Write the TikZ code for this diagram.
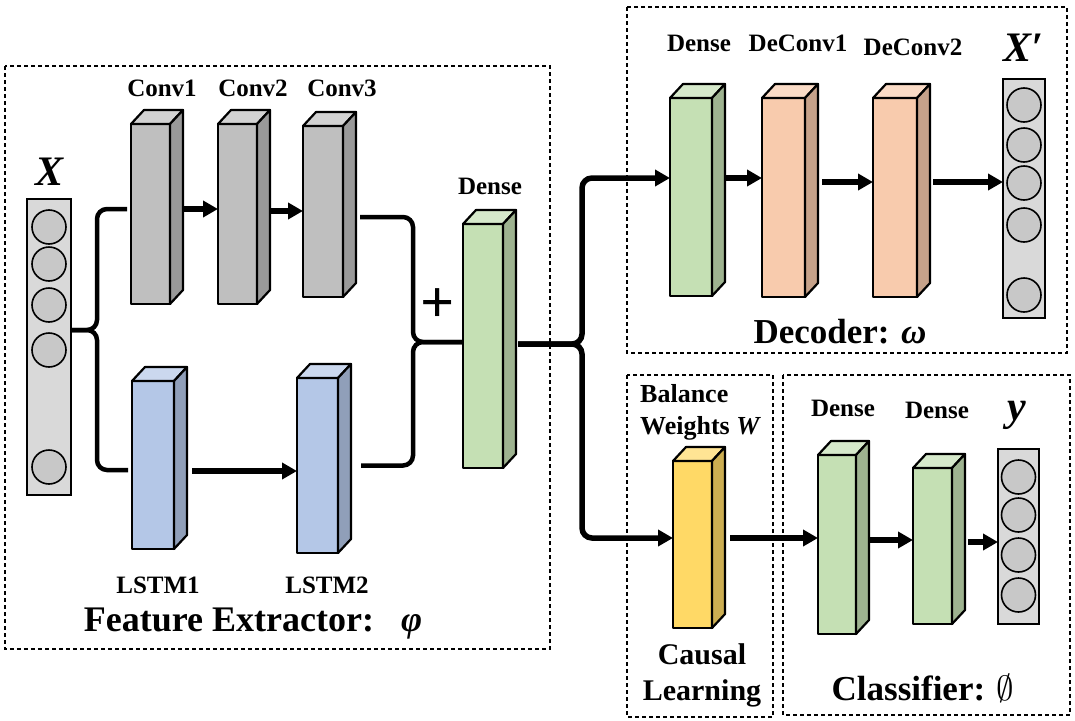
\RequirePackage{fix-cm}
\documentclass[tikz,border=0pt]{standalone}
\usepackage{fontspec}
\setmainfont{Liberation Serif}
\usetikzlibrary{calc,arrows.meta}

\definecolor{convgray}{HTML}{BFBFBF}
\definecolor{lstmblue}{HTML}{B4C7E7}
\definecolor{densegreen}{HTML}{C5E0B4}
\definecolor{deconvorange}{HTML}{F8CBAD}
\definecolor{weightyellow}{HTML}{FFD966}
\definecolor{colgray}{HTML}{D9D9D9}
\definecolor{unitgray}{HTML}{C8C8C8}

\tikzset{
  block/.style={draw, line width=2.2pt, outer sep=0pt, inner sep=0pt, line join=round},
  face/.style={draw, line width=2.2pt, line join=round},
  col/.style={draw, line width=2pt, fill=colgray, outer sep=0pt, inner sep=0pt},
  unit/.style={draw, circle, line width=1.6pt, fill=unitgray, minimum size=34, inner sep=0pt},
  lbl/.style={font=\bfseries\fontsize{25}{28}\selectfont, inner sep=0pt},
  title/.style={font=\bfseries\fontsize{35}{40}\selectfont, inner sep=0pt},
  sym/.style={font=\bfseries\itshape\fontsize{42}{46}\selectfont, inner sep=0pt},
  group/.style={draw, dash pattern=on 4pt off 3pt, line width=1.5pt},
  flow/.style={line width=5.5pt, -{Triangle[length=15pt,width=16pt]}},
  wire/.style={line width=4.5pt, rounded corners=10pt},
}

% 3d layer: name, x, y, width, height, colour
\newcommand{\layer}[6]{
  \node[block, minimum width=#4, minimum height=#5, fill=#6] (#1) at (#2,#3) {};
  \filldraw[face, fill=#6!70!white] (#1.north west) -- ++(13,-14) -- ++(#4,0) -- (#1.north east) -- cycle;% top
  \filldraw[face, fill=#6!80!black] (#1.north east) -- ++(13,-14) -- ++(0,#5) -- (#1.south east) -- cycle;% side
}
% vector of units: name, x, y, width, height, unit rows
\newcommand{\unitcol}[6]{
  \node[col, minimum width=#4, minimum height=#5] (#1) at (#2,#3) {};
  \foreach \r [count=\i] in {#6}{
    \node[unit] (#1-\i) at (#2,\r) {};
  }
}

\begin{document}
\begin{tikzpicture}[x=1pt,y=-1pt]
  \useasboundingbox (0,0) rectangle (1075,720);

  % groups
  \draw[group] (5,66) rectangle (550,649);
  \draw[group] (627,7) rectangle (1067,353);
  \draw[group] (627,375) rectangle (773,717);
  \draw[group] (783,375) rectangle (1070,715);

  % feature extractor
  \unitcol{xcol}{49}{347}{44}{296}{227,264,305,350,467}
  \layer{conv1}{150.5}{214}{39}{180}{convgray}
  \layer{conv2}{237.5}{214}{39}{180}{convgray}
  \layer{conv3}{323}{211.5}{40}{171}{convgray}
  \layer{lstm1}{153}{465}{42}{168}{lstmblue}
  \layer{lstm2}{317.5}{465.5}{41}{175}{lstmblue}
  \layer{dense0}{483}{346}{40}{244}{densegreen}

  \node[sym] (tx) at (50,172) {X};
  \node[lbl] (tconv1) at (162,88) {Conv1};
  \node[lbl] (tconv2) at (253,88) {Conv2};
  \node[lbl] (tconv3) at (342,88) {Conv3};
  \node[lbl] (tlstm1) at (158,585) {LSTM1};
  \node[lbl] (tlstm2) at (327,585) {LSTM2};
  \node[lbl] (tdense0) at (490,186) {Dense};
  \node[font=\bfseries\fontsize{60}{60}\selectfont, inner sep=0pt] (plus) at (438,306) {+};
  \node[title, font=\bfseries\fontsize{36}{40}\selectfont] (tfe) at (253,624) {Feature Extractor:~~~\textit{φ}};

  \coordinate (split) at (97,330);
  \coordinate (merge) at (413,342);
  \draw[wire, shorten >=4pt] (xcol.east |- split) -- (split) |- ([yshift=5pt]conv1.west);
  \draw[wire, shorten >=4pt] (xcol.east |- split) -- (split) |- ([yshift=-5pt]lstm1.west);
  \draw[flow, shorten <=13pt] ([yshift=5pt]conv1.east) -- ([yshift=5pt]conv1.east -| conv2.west);
  \draw[flow, shorten <=13pt] ([yshift=3pt]conv2.east) -- ([yshift=3pt]conv2.east -| conv3.west);
  \draw[flow, shorten <=18pt] ([yshift=-6pt]lstm1.east) -- ([yshift=-6pt]lstm1.east -| lstm2.west);
  \draw[wire, shorten <=17pt] ([yshift=-5.5pt]conv3.east) -| (merge) -- (merge -| dense0.west);
  \draw[wire, shorten <=23pt] (lstm2.east) -| (merge) -- (merge -| dense0.west);

  % decoder
  \layer{ddense}{691}{197}{42}{198}{densegreen}
  \layer{deconv1}{783.5}{197.5}{43}{199}{deconvorange}
  \layer{deconv2}{895}{197.5}{44}{199}{deconvorange}
  \unitcol{xpcol}{1024}{198.5}{42}{239}{105,145,183,225,295}

  \node[lbl] (tddense) at (699,43) {Dense};
  \node[lbl] (tdeconv1) at (798,43) {DeConv1};
  \node[lbl] (tdeconv2) at (913,47) {DeConv2};
  \node[sym] (txp) at (1023,48) {X′};
  \node[title] (tdec) at (840,332) {Decoder: \textit{ω}};

  \draw[flow, shorten <=13pt] ([yshift=19pt]ddense.east) -- ([yshift=19pt]ddense.east -| deconv1.west);
  \draw[flow, shorten <=17pt] ([yshift=15.5pt]deconv1.east) -- ([yshift=15.5pt]deconv1.east -| deconv2.west);
  \draw[flow, shorten <=16pt] ([yshift=15.5pt]deconv2.east) -- ([yshift=15.5pt]deconv2.east -| xpcol.west);

  % causal learning and classifier
  \layer{wblock}{692.5}{544.5}{39}{167}{weightyellow}
  \layer{cdense1}{837}{544.5}{38}{179}{densegreen}
  \layer{cdense2}{932.5}{546}{39}{156}{densegreen}
  \unitcol{ycol}{1018.5}{536.5}{41}{175}{477,515,555,595}

  \node[font=\bfseries\fontsize{26}{32}\selectfont, align=left, anchor=north west, inner sep=0pt] (tbal) at (640,384) {Balance\\Weights \textit{W}};
  \node[font=\bfseries\fontsize{30}{36}\selectfont, align=center, inner sep=0pt] (tcausal) at (702,675) {Causal\\Learning};
  \node[lbl] (tcdense1) at (843,408) {Dense};
  \node[lbl] (tcdense2) at (937,410) {Dense};
  \node[sym] (ty) at (1017,415) {y};
  \node[title] (tcls) at (923,688) {Classifier: $\emptyset$};

  \draw[flow, shorten <=18pt] ([yshift=6.5pt]wblock.east) -- ([yshift=6.5pt]wblock.east -| cdense1.west);
  \draw[flow, shorten <=14pt] ([yshift=4.5pt]cdense1.east) -- ([yshift=4.5pt]cdense1.east -| cdense2.west);
  \draw[flow, shorten <=16pt] ([yshift=4pt]cdense2.east) -- ([yshift=4pt]cdense2.east -| ycol.west);

  % fork to decoder and causal learning
  \coordinate (fork) at (582,344);
  \draw[wire, flow, shorten <=15pt] (dense0.east |- fork) -- (fork) |- ([yshift=19pt]ddense.west);
  \draw[wire, flow, shorten <=15pt] (dense0.east |- fork) -- (fork) |- ([yshift=6.5pt]wblock.west);
\end{tikzpicture}
\end{document}
